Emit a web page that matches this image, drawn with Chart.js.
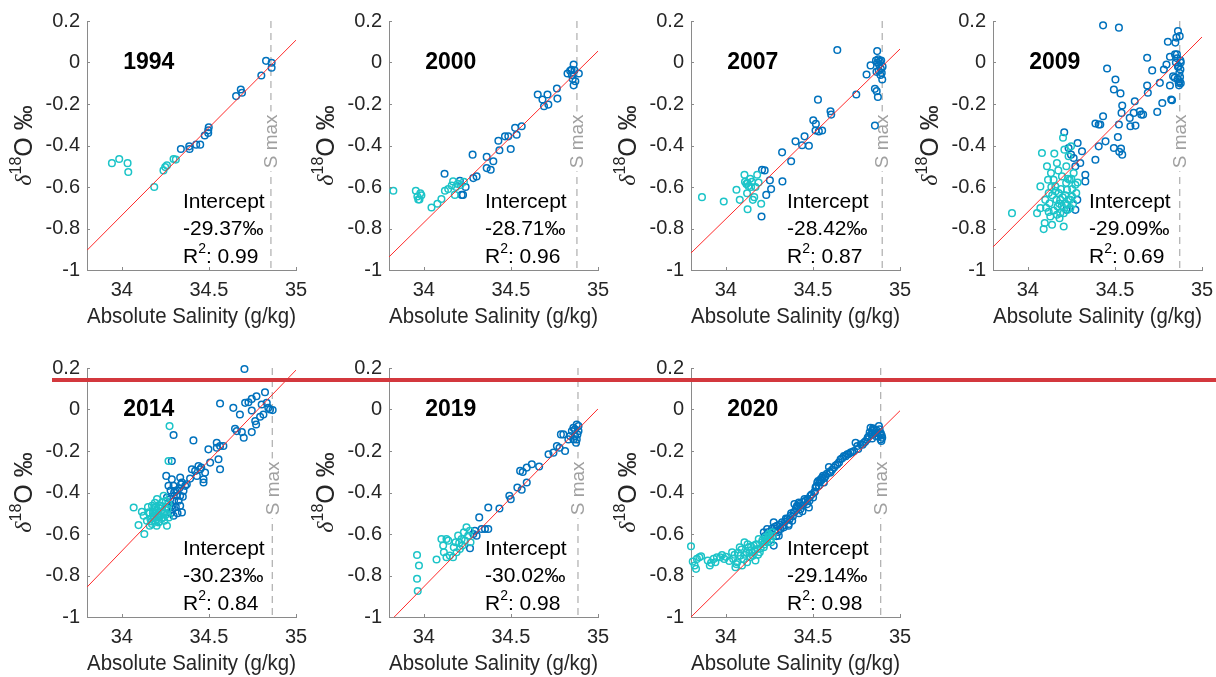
<!DOCTYPE html>
<html>
<head>
<meta charset="utf-8">
<title>d18O vs Absolute Salinity</title>
<script src="https://cdn.jsdelivr.net/npm/chart.js"></script>
<style>
  body { margin: 0; background: #fff; width: 1216px; height: 677px; overflow: hidden; position: relative; }
  .panel { position: absolute; width: 321px; height: 340px; }
  #redbar { position: absolute; left: 52px; top: 378px; width: 1164px; height: 4px; background: #d3383d; z-index: 5; }
</style>
</head>
<body>
<div id="redbar"></div>
<script>
// panel labels and fit results
const years = ['1994', '2000', '2007', '2009', '2014', '2019', '2020'];
const intercepts = ['-29.37‰', '-28.71‰', '-28.42‰', '-29.09‰', '-30.23‰', '-30.02‰', '-29.14‰'];
const r2 = ['0.99', '0.96', '0.87', '0.69', '0.84', '0.98', '0.98'];
const sMax = [34.856, 34.879, 34.898, 34.872, 34.864, 34.885, 34.889];
const fitStart = [[33.8, -0.905], [33.8, -0.937], [33.8, -0.918], [33.8, -0.889], [33.8, -0.856], [33.83, -1], [33.8, -1]];
const fitEnd = [[35, 0.108], [35, 0.055], [35, 0.065], [35, 0.123], [35, 0.19], [35, 0.003], [35, -0.006]];
const xTicks = [34, 34.5, 35];
const yTicks = [-1, -0.8, -0.6, -0.4, -0.2, 0, 0.2];

// samples [salinity, d18O]
const cyan1994 = [[33.943,-0.485],[33.985,-0.465],[34.033,-0.485],[34.037,-0.528],[34.186,-0.600],[34.239,-0.520],[34.249,-0.504],[34.259,-0.496],[34.297,-0.465],[34.310,-0.468]];
const blue1994 = [[34.339,-0.417],[34.387,-0.404],[34.389,-0.417],[34.427,-0.396],[34.450,-0.396],[34.476,-0.352],[34.496,-0.327],[34.499,-0.312],[34.496,-0.340],[34.656,-0.162],[34.683,-0.130],[34.690,-0.146],[34.801,-0.063],[34.828,0.008],[34.860,-0.001],[34.860,-0.025]];

const cyan2000 = [[33.825,-0.618],[33.954,-0.618],[33.963,-0.646],[33.968,-0.660],[33.975,-0.660],[33.980,-0.630],[33.986,-0.640],[34.044,-0.699],[34.078,-0.681],[34.101,-0.658],[34.121,-0.618],[34.140,-0.610],[34.160,-0.593],[34.168,-0.573],[34.178,-0.638],[34.185,-0.600],[34.195,-0.585],[34.210,-0.590],[34.230,-0.575]];
const blue2000 = [[34.119,-0.536],[34.207,-0.570],[34.217,-0.638],[34.225,-0.638],[34.240,-0.600],[34.280,-0.444],[34.284,-0.557],[34.303,-0.549],[34.361,-0.455],[34.361,-0.509],[34.384,-0.517],[34.399,-0.476],[34.428,-0.377],[34.434,-0.423],[34.466,-0.356],[34.485,-0.356],[34.499,-0.417],[34.524,-0.315],[34.533,-0.348],[34.562,-0.307],[34.654,-0.154],[34.681,-0.178],[34.690,-0.211],[34.710,-0.154],[34.715,-0.203],[34.764,-0.125],[34.767,-0.174],[34.825,-0.053],[34.840,-0.040],[34.850,-0.060],[34.848,-0.035],[34.860,-0.010],[34.865,-0.037],[34.855,-0.080],[34.860,-0.110],[34.870,-0.090],[34.890,-0.053]];

const cyan2007 = [[33.863,-0.649],[33.988,-0.670],[34.061,-0.613],[34.080,-0.662],[34.107,-0.541],[34.110,-0.575],[34.118,-0.585],[34.125,-0.580],[34.130,-0.595],[34.140,-0.560],[34.145,-0.600],[34.150,-0.575],[34.122,-0.630],[34.125,-0.707],[34.155,-0.662],[34.163,-0.649],[34.188,-0.578],[34.203,-0.681],[34.180,-0.541],[34.170,-0.600]];
const blue2007 = [[34.208,-0.517],[34.223,-0.520],[34.253,-0.568],[34.260,-0.610],[34.232,-0.638],[34.205,-0.742],[34.323,-0.433],[34.325,-0.573],[34.375,-0.476],[34.400,-0.380],[34.438,-0.399],[34.452,-0.356],[34.477,-0.401],[34.502,-0.278],[34.517,-0.296],[34.515,-0.328],[34.529,-0.179],[34.534,-0.332],[34.553,-0.328],[34.601,-0.235],[34.605,-0.251],[34.640,0.060],[34.749,-0.154],[34.808,-0.058],[34.831,-0.014],[34.856,-0.127],[34.866,-0.138],[34.856,-0.304],[34.873,-0.166],[34.869,0.055],[34.862,0.010],[34.870,0.000],[34.875,0.015],[34.880,-0.010],[34.885,0.005],[34.890,-0.030],[34.895,-0.050],[34.900,-0.020],[34.888,-0.060],[34.878,-0.040],[34.898,-0.082],[34.865,-0.045],[34.892,0.010]];

const cyan2009 = [[33.909,-0.726],[34.053,-0.726],[34.072,-0.702],[34.081,-0.436],[34.091,-0.803],[34.097,-0.774],[34.110,-0.500],[34.116,-0.565],[34.120,-0.629],[34.125,-0.678],[34.133,-0.533],[34.139,-0.782],[34.148,-0.565],[34.152,-0.439],[34.158,-0.597],[34.164,-0.662],[34.167,-0.484],[34.171,-0.694],[34.177,-0.629],[34.182,-0.750],[34.186,-0.662],[34.196,-0.549],[34.202,-0.363],[34.206,-0.790],[34.210,-0.420],[34.215,-0.678],[34.221,-0.500],[34.225,-0.613],[34.229,-0.710],[34.234,-0.452],[34.240,-0.565],[34.244,-0.662],[34.248,-0.404],[34.254,-0.646],[34.263,-0.533],[34.273,-0.589],[34.278,-0.629],[34.286,-0.578],[34.072,-0.597],[34.100,-0.662],[34.129,-0.742],[34.148,-0.713],[34.167,-0.734],[34.186,-0.726],[34.206,-0.726],[34.225,-0.686],[34.244,-0.702],[34.105,-0.700],[34.140,-0.640],[34.195,-0.690],[34.215,-0.640],[34.230,-0.560],[34.175,-0.520],[34.255,-0.610],[34.135,-0.600],[34.160,-0.620],[34.190,-0.610],[34.200,-0.650],[34.220,-0.580],[34.235,-0.660],[34.250,-0.560],[34.180,-0.680],[34.120,-0.720],[34.260,-0.680]];
const blue2009 = [[34.209,-0.336],[34.234,-0.412],[34.248,-0.444],[34.263,-0.460],[34.273,-0.500],[34.286,-0.388],[34.301,-0.484],[34.311,-0.428],[34.330,-0.541],[34.330,-0.573],[34.284,-0.662],[34.273,-0.710],[34.221,-0.710],[34.388,-0.469],[34.388,-0.294],[34.407,-0.299],[34.416,-0.299],[34.407,-0.404],[34.432,0.179],[34.432,-0.259],[34.446,-0.380],[34.455,-0.029],[34.494,-0.130],[34.503,-0.082],[34.494,-0.412],[34.517,-0.359],[34.523,0.168],[34.523,-0.299],[34.532,-0.149],[34.542,-0.207],[34.538,-0.243],[34.525,-0.430],[34.535,-0.415],[34.542,-0.444],[34.585,-0.267],[34.589,-0.307],[34.614,-0.187],[34.608,-0.243],[34.618,-0.304],[34.643,-0.235],[34.651,-0.251],[34.662,-0.251],[34.685,0.023],[34.685,-0.111],[34.689,-0.146],[34.714,-0.038],[34.743,-0.238],[34.758,-0.098],[34.772,-0.195],[34.781,-0.034],[34.804,0.100],[34.796,-0.010],[34.816,0.028],[34.816,-0.111],[34.823,-0.178],[34.828,-0.182],[34.834,-0.066],[34.843,-0.074],[34.847,0.096],[34.853,0.120],[34.856,0.039],[34.862,0.152],[34.866,-0.017],[34.872,0.127],[34.872,-0.090],[34.876,0.010],[34.876,-0.034],[34.866,-0.098],[34.845,0.039],[34.850,0.000],[34.860,-0.080],[34.870,-0.050],[34.878,-0.100],[34.868,-0.110],[34.874,-0.070],[34.862,-0.020],[34.858,0.020],[34.878,0.000]];

const cyan2014 = [[34.068,-0.472],[34.096,-0.557],[34.129,-0.600],[34.115,-0.493],[34.274,-0.080],[34.268,-0.248],[34.154,-0.496],[34.164,-0.528],[34.173,-0.464],[34.183,-0.512],[34.192,-0.536],[34.202,-0.432],[34.202,-0.488],[34.211,-0.544],[34.221,-0.512],[34.230,-0.448],[34.236,-0.496],[34.244,-0.536],[34.249,-0.472],[34.259,-0.560],[34.144,-0.536],[34.173,-0.552],[34.187,-0.472],[34.217,-0.464],[34.227,-0.528],[34.259,-0.504],[34.268,-0.456],[34.240,-0.416],[34.125,-0.512],[34.195,-0.500],[34.210,-0.520],[34.180,-0.490],[34.150,-0.470],[34.160,-0.500],[34.170,-0.540],[34.178,-0.500],[34.185,-0.520],[34.195,-0.470],[34.205,-0.510],[34.215,-0.540],[34.225,-0.490],[34.232,-0.470],[34.238,-0.520],[34.246,-0.500],[34.252,-0.440],[34.262,-0.480],[34.270,-0.520],[34.200,-0.560],[34.190,-0.450],[34.160,-0.560]];
const blue2014 = [[34.704,0.195],[34.297,-0.123],[34.411,-0.149],[34.287,-0.248],[34.255,-0.320],[34.564,0.029],[34.640,0.008],[34.678,-0.024],[34.564,-0.288],[34.555,-0.240],[34.545,-0.160],[34.497,-0.192],[34.650,-0.093],[34.660,-0.104],[34.700,-0.136],[34.689,-0.109],[34.708,0.032],[34.727,0.035],[34.746,-0.005],[34.746,0.051],[34.766,-0.056],[34.771,-0.072],[34.746,-0.109],[34.773,0.064],[34.794,-0.035],[34.803,0.024],[34.822,0.083],[34.832,0.032],[34.813,-0.024],[34.841,0.008],[34.851,0.000],[34.866,-0.003],[34.335,-0.328],[34.345,-0.352],[34.364,-0.368],[34.402,-0.288],[34.421,-0.296],[34.450,-0.288],[34.469,-0.336],[34.431,-0.320],[34.456,-0.280],[34.478,-0.304],[34.507,-0.256],[34.545,-0.184],[34.564,-0.176],[34.583,-0.176],[34.297,-0.368],[34.306,-0.392],[34.316,-0.416],[34.335,-0.464],[34.345,-0.496],[34.297,-0.512],[34.326,-0.440],[34.259,-0.424],[34.278,-0.432],[34.287,-0.464],[34.221,-0.464],[34.354,-0.392],[34.373,-0.360],[34.392,-0.333],[34.440,-0.272],[34.268,-0.368],[34.287,-0.336],[34.335,-0.416],[34.469,-0.352],[34.262,-0.470],[34.280,-0.500],[34.292,-0.480],[34.300,-0.440],[34.310,-0.470],[34.318,-0.390],[34.330,-0.380],[34.320,-0.500],[34.340,-0.360],[34.350,-0.420],[34.300,-0.400],[34.280,-0.390]];

const cyan2019 = [[33.961,-0.701],[33.972,-0.752],[33.961,-0.816],[33.965,-0.875],[34.073,-0.723],[34.101,-0.624],[34.111,-0.656],[34.115,-0.688],[34.130,-0.624],[34.140,-0.632],[34.130,-0.712],[34.149,-0.704],[34.168,-0.712],[34.172,-0.664],[34.182,-0.640],[34.188,-0.688],[34.197,-0.608],[34.203,-0.643],[34.207,-0.672],[34.217,-0.624],[34.222,-0.656],[34.230,-0.592],[34.236,-0.632],[34.245,-0.568],[34.255,-0.608],[34.264,-0.584],[34.268,-0.640]];
const blue2019 = [[34.265,-0.669],[34.284,-0.600],[34.293,-0.584],[34.303,-0.608],[34.318,-0.520],[34.332,-0.576],[34.351,-0.576],[34.370,-0.576],[34.370,-0.472],[34.434,-0.477],[34.491,-0.416],[34.499,-0.432],[34.537,-0.376],[34.562,-0.387],[34.553,-0.296],[34.568,-0.301],[34.591,-0.280],[34.591,-0.352],[34.620,-0.264],[34.662,-0.275],[34.716,-0.216],[34.744,-0.208],[34.764,-0.176],[34.779,-0.184],[34.787,-0.120],[34.801,-0.120],[34.811,-0.200],[34.830,-0.144],[34.840,-0.128],[34.850,-0.104],[34.859,-0.088],[34.868,-0.096],[34.878,-0.072],[34.882,-0.120],[34.888,-0.104],[34.878,-0.144],[34.859,-0.144],[34.868,-0.128],[34.888,-0.080],[34.874,-0.160]];

const cyan2020 = [[33.800,-0.659],[33.810,-0.733],[33.821,-0.752],[33.829,-0.768],[33.834,-0.720],[33.848,-0.712],[33.858,-0.707],[33.896,-0.728],[33.908,-0.752],[33.915,-0.739],[33.930,-0.720],[33.940,-0.736],[33.949,-0.712],[33.968,-0.712],[33.978,-0.701],[33.991,-0.720],[34.036,-0.688],[34.042,-0.720],[34.055,-0.760],[34.065,-0.736],[34.080,-0.664],[34.084,-0.704],[34.093,-0.752],[34.103,-0.720],[34.107,-0.640],[34.118,-0.688],[34.122,-0.736],[34.131,-0.664],[34.141,-0.712],[34.151,-0.688],[34.160,-0.656],[34.170,-0.728],[34.180,-0.672],[34.189,-0.624],[34.195,-0.688],[34.208,-0.640],[34.218,-0.664],[34.227,-0.616],[34.237,-0.640],[34.247,-0.600],[34.256,-0.624],[34.266,-0.592],[34.050,-0.700],[34.070,-0.690],[34.090,-0.675],[34.110,-0.700],[34.125,-0.650],[34.135,-0.690],[34.145,-0.660],[34.155,-0.705],[34.165,-0.680],[34.175,-0.650],[34.185,-0.700],[34.200,-0.670],[34.210,-0.630],[34.220,-0.650],[34.230,-0.630],[34.240,-0.620],[34.250,-0.610],[34.260,-0.640],[34.270,-0.610],[34.000,-0.710],[34.020,-0.730],[34.060,-0.745]];
const blue2020 = [[34.218,-0.592],[34.237,-0.576],[34.256,-0.608],[34.275,-0.544],[34.285,-0.584],[34.294,-0.560],[34.314,-0.576],[34.323,-0.544],[34.333,-0.568],[34.352,-0.528],[34.361,-0.552],[34.371,-0.512],[34.381,-0.536],[34.390,-0.496],[34.394,-0.456],[34.409,-0.464],[34.419,-0.448],[34.429,-0.480],[34.438,-0.464],[34.452,-0.432],[34.467,-0.456],[34.477,-0.472],[34.486,-0.416],[34.501,-0.424],[34.515,-0.376],[34.525,-0.352],[34.534,-0.368],[34.544,-0.336],[34.553,-0.328],[34.563,-0.352],[34.573,-0.320],[34.592,-0.277],[34.601,-0.304],[34.621,-0.280],[34.640,-0.264],[34.659,-0.240],[34.678,-0.224],[34.697,-0.216],[34.716,-0.208],[34.736,-0.200],[34.745,-0.160],[34.755,-0.176],[34.774,-0.168],[34.793,-0.160],[34.812,-0.144],[34.822,-0.128],[34.831,-0.088],[34.841,-0.104],[34.850,-0.096],[34.860,-0.128],[34.870,-0.112],[34.879,-0.080],[34.889,-0.144],[34.885,-0.120],[34.898,-0.136],[34.893,-0.152],[34.275,-0.656],[34.304,-0.608],[34.225,-0.610],[34.245,-0.590],[34.265,-0.575],[34.282,-0.565],[34.300,-0.590],[34.310,-0.555],[34.328,-0.560],[34.340,-0.540],[34.345,-0.525],[34.365,-0.530],[34.375,-0.500],[34.385,-0.515],[34.398,-0.490],[34.403,-0.475],[34.415,-0.470],[34.425,-0.455],[34.445,-0.445],[34.458,-0.440],[34.470,-0.430],[34.480,-0.440],[34.492,-0.410],[34.507,-0.400],[34.512,-0.395],[34.520,-0.370],[34.530,-0.345],[34.540,-0.350],[34.550,-0.340],[34.558,-0.320],[34.566,-0.330],[34.580,-0.310],[34.595,-0.300],[34.610,-0.290],[34.630,-0.270],[34.650,-0.255],[34.668,-0.235],[34.688,-0.225],[34.705,-0.215],[34.725,-0.205],[34.760,-0.190],[34.785,-0.170],[34.800,-0.155],[34.815,-0.135],[34.826,-0.110],[34.836,-0.120],[34.845,-0.090],[34.855,-0.115],[34.865,-0.100],[34.875,-0.130],[34.883,-0.095],[34.890,-0.115],[34.895,-0.125],[34.840,-0.140],[34.420,-0.500],[34.440,-0.490],[34.360,-0.560],[34.290,-0.610]];

const cyanSets = [cyan1994, cyan2000, cyan2007, cyan2009, cyan2014, cyan2019, cyan2020];
const blueSets = [blue1994, blue2000, blue2007, blue2009, blue2014, blue2019, blue2020];

const BLUE = '#0072bd';
const CYAN = '#1cc4c8';
const AXIS = '#8a8a8a';
const TXT = '#262626';
const FONT = '"Liberation Sans", Arial, sans-serif';

const panelLeft = [0, 302, 604, 906, 0, 302, 604];
const panelTop = [0, 0, 0, 0, 347, 347, 347];

function toXY(arr) {
  return arr.map(p => ({ x: p[0], y: p[1] }));
}

// draw a run of text pieces left to right, each with its own font and vertical shift
function drawRun(ctx, parts, x, y) {
  let cx = x;
  parts.forEach(p => {
    ctx.font = p.font;
    ctx.fillText(p.text, cx, y + (p.dy || 0));
    cx += ctx.measureText(p.text).width;
  });
}
function runWidth(ctx, parts) {
  let w = 0;
  parts.forEach(p => { ctx.font = p.font; w += ctx.measureText(p.text).width; });
  return w;
}

function makePanel(i) {
  const div = document.createElement('div');
  div.className = 'panel';
  div.style.left = panelLeft[i] + 'px';
  div.style.top = panelTop[i] + 'px';
  const canvas = document.createElement('canvas');
  canvas.width = 321;
  canvas.height = 340;
  div.appendChild(canvas);
  document.body.appendChild(div);

  const decor = {
    id: 'decor' + i,
    beforeDatasetsDraw(chart) {
      const ctx = chart.ctx;
      const xs = chart.scales.x, ys = chart.scales.y;
      const sx = xs.getPixelForValue(sMax[i]);
      ctx.save();
      ctx.strokeStyle = '#b4b4b4';
      ctx.lineWidth = 1.3;
      ctx.setLineDash([7, 5]);
      ctx.beginPath();
      ctx.moveTo(sx, ys.getPixelForValue(0.2));
      ctx.lineTo(sx, ys.getPixelForValue(-1));
      ctx.stroke();
      ctx.setLineDash([]);
      // S max label, rotated, sitting on the line
      ctx.translate(sx, ys.getPixelForValue(-0.38));
      ctx.rotate(-Math.PI / 2);
      ctx.font = '19px ' + FONT;
      const w = ctx.measureText('S max').width;
      ctx.fillStyle = '#fff';
      ctx.fillRect(-w / 2 - 3, -10, w + 6, 20);
      ctx.fillStyle = '#a0a0a0';
      ctx.textAlign = 'center';
      ctx.textBaseline = 'middle';
      ctx.fillText('S max', 0, 1);
      ctx.restore();
    },
    afterDatasetsDraw(chart) {
      const ctx = chart.ctx;
      const xs = chart.scales.x, ys = chart.scales.y;
      const a = chart.chartArea;
      ctx.save();
      // inward tick marks
      ctx.strokeStyle = AXIS;
      ctx.lineWidth = 1;
      ctx.beginPath();
      xTicks.forEach(v => {
        const px = Math.round(xs.getPixelForValue(v)) + 0.5;
        ctx.moveTo(px, a.bottom);
        ctx.lineTo(px, a.bottom - 3);
      });
      yTicks.forEach(v => {
        const py = Math.round(ys.getPixelForValue(v)) + 0.5;
        ctx.moveTo(a.left, py);
        ctx.lineTo(a.left + 3, py);
      });
      ctx.stroke();

      ctx.fillStyle = '#000';
      ctx.textBaseline = 'middle';
      ctx.textAlign = 'center';
      ctx.font = 'bold 23px ' + FONT;
      ctx.fillText(years[i], xs.getPixelForValue(34.155), ys.getPixelForValue(0));

      ctx.textAlign = 'left';
      const tx = xs.getPixelForValue(34.351);
      const f = '21px ' + FONT;
      ctx.font = f;
      ctx.fillText('Intercept', tx, ys.getPixelForValue(-0.671));
      ctx.fillText(intercepts[i], tx, ys.getPixelForValue(-0.803));
      drawRun(ctx, [
        { text: 'R', font: f },
        { text: '2', font: '14px ' + FONT, dy: -8 },
        { text: ': ' + r2[i], font: f }
      ], tx, ys.getPixelForValue(-0.937));
      ctx.restore();
    },
    afterDraw(chart) {
      const ctx = chart.ctx;
      const a = chart.chartArea;
      const parts = [
        { text: 'δ', font: 'italic 24px "Liberation Serif", serif' },
        { text: '18', font: '16px ' + FONT, dy: -8 },
        { text: 'O ‰', font: '25px ' + FONT }
      ];
      ctx.save();
      ctx.translate(25, (a.top + a.bottom) / 2);
      ctx.rotate(-Math.PI / 2);
      ctx.fillStyle = TXT;
      ctx.textBaseline = 'middle';
      ctx.textAlign = 'left';
      drawRun(ctx, parts, -runWidth(ctx, parts) / 2, 0);
      ctx.restore();
    }
  };

  new Chart(canvas, {
    type: 'scatter',
    data: {
      datasets: [
        {
          type: 'line',
          data: [{ x: fitStart[i][0], y: fitStart[i][1] }, { x: fitEnd[i][0], y: fitEnd[i][1] }],
          borderColor: '#ff2a2a',
          borderWidth: 1,
          pointRadius: 0,
          fill: false
        },
        {
          data: toXY(cyanSets[i]),
          borderColor: CYAN,
          backgroundColor: 'rgba(0,0,0,0)',
          borderWidth: 1.5,
          pointRadius: 3.3,
          clip: false
        },
        {
          data: toXY(blueSets[i]),
          borderColor: BLUE,
          backgroundColor: 'rgba(0,0,0,0)',
          borderWidth: 1.5,
          pointRadius: 3.3,
          clip: false
        }
      ]
    },
    options: {
      responsive: false,
      animation: false,
      devicePixelRatio: 1,
      layout: { padding: { left: 0, top: 21, right: 25, bottom: 0 } },
      plugins: { legend: { display: false }, tooltip: { enabled: false } },
      scales: {
        x: {
          type: 'linear',
          min: 33.8,
          max: 35,
          afterBuildTicks: s => { s.ticks = xTicks.map(v => ({ value: v })); },
          afterFit: s => { s.height = 70; s.paddingLeft = 0; s.paddingRight = 0; },
          grid: { display: false, drawTicks: false },
          border: { display: true, color: AXIS, width: 1 },
          ticks: {
            padding: 8,
            color: TXT,
            font: { family: FONT, size: 20 },
            maxRotation: 0,
            callback: v => String(v)
          },
          title: {
            display: true,
            text: 'Absolute Salinity (g/kg)',
            color: TXT,
            font: { family: FONT, size: 22 },
            padding: { top: 0, bottom: 10 }
          }
        },
        y: {
          type: 'linear',
          min: -1,
          max: 0.2,
          afterBuildTicks: s => { s.ticks = yTicks.map(v => ({ value: v })); },
          afterFit: s => { s.width = 87; s.paddingTop = 0; s.paddingBottom = 0; },
          grid: { display: false, drawTicks: false },
          border: { display: true, color: AXIS, width: 1 },
          ticks: {
            padding: 7,
            color: TXT,
            font: { family: FONT, size: 20 },
            callback: v => String(Math.round(v * 10) / 10)
          }
        }
      }
    },
    plugins: [decor]
  });
}

for (let i = 0; i < years.length; i++) makePanel(i);
</script>
</body>
</html>
